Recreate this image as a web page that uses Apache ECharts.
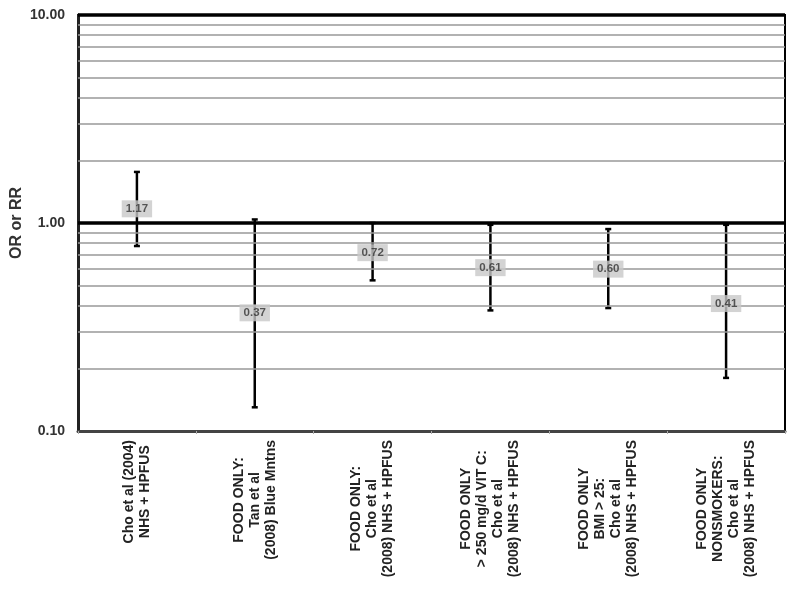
<!DOCTYPE html>
<html>
<head>
<meta charset="utf-8">
<script src="https://cdn.jsdelivr.net/npm/echarts@6/dist/echarts.min.js"></script>
<style>html,body{margin:0;padding:0;background:#fff}#c{width:798px;height:589px}</style>
</head>
<body>
<div id="c"></div>
<script>
const categories = [
  ["Cho et al (2004)", "NHS + HPFUS"],
  ["FOOD ONLY:", "Tan et al", "(2008) Blue Mntns"],
  ["FOOD ONLY:", "Cho et al", "(2008) NHS + HPFUS"],
  ["FOOD ONLY", "> 250 mg/d VIT C:", "Cho et al", "(2008) NHS + HPFUS"],
  ["FOOD ONLY", "BMI > 25:", "Cho et al", "(2008) NHS + HPFUS"],
  ["FOOD ONLY", "NONSMOKERS:", "Cho et al", "(2008) NHS + HPFUS"]
];
const estimates = [1.17, 0.37, 0.72, 0.61, 0.60, 0.41];
const lower = [0.775, 0.13, 0.53, 0.38, 0.39, 0.18];
const upper = [1.76, 1.04, 1.0, 0.98, 0.935, 0.98];
const gridValues = [0.2, 0.3, 0.4, 0.5, 0.6, 0.7, 0.8, 0.9, 2, 3, 4, 5, 6, 7, 8, 9];
const boldValues = [1, 10];

const catKeys = categories.map((c, i) => String(i));

const chart = echarts.init(document.getElementById('c'));
chart.setOption({
  animation: false,
  grid: { left: 78, right: 13, top: 15, bottom: 158, outerBoundsMode: 'none', containLabel: false, show: true, borderColor: '#000', borderWidth: 2, backgroundColor: 'transparent' },
  xAxis: {
    type: 'category',
    data: catKeys,
    boundaryGap: true,
    axisLine: { lineStyle: { color: '#444', width: 3 } },
    axisTick: { show: true, length: 3, lineStyle: { color: '#aaa', width: 1 } },
    splitLine: { show: false },
    axisLabel: {
      rotate: 90,
      margin: 9,
      interval: 0,
      formatter: (v) => categories[+v].map(s => '{c|' + s + '}').join('\n'),
      rich: { c: { align: 'center', fontSize: 14, fontWeight: 'bold', fontFamily: 'Liberation Sans, Arial', color: '#222', lineHeight: 16 } }
    }
  },
  yAxis: {
    type: 'log',
    logBase: 10,
    min: 0.1,
    max: 10,
    name: 'OR or RR',
    nameLocation: 'middle',
    nameGap: 53,
    nameMoveOverlap: false,
    nameTextStyle: { fontSize: 16, fontWeight: 'bold', fontFamily: 'Liberation Sans, Arial', color: '#333' },
    axisLine: { show: true, lineStyle: { color: '#222', width: 3 } },
    axisTick: { show: false },
    splitLine: { show: false },
    axisLabel: { formatter: v => Number(v).toFixed(2), fontSize: 14, fontWeight: 'bold', fontFamily: 'Liberation Sans, Arial', color: '#333', margin: 13 }
  },
  series: [
    {
      type: 'line', data: [], z: 1, silent: true,
      markLine: {
        silent: true, symbol: 'none', label: { show: false },
        lineStyle: { color: '#999', width: 1.5, type: 'solid' },
        data: gridValues.map(v => ({ yAxis: v }))
      }
    },
    {
      type: 'line', data: [], z: 2, silent: true,
      markLine: {
        silent: true, symbol: 'none', label: { show: false },
        lineStyle: { color: '#000', width: 3.5, type: 'solid' },
        data: boldValues.map(v => ({ yAxis: v }))
      }
    },
    {
      type: 'custom', z: 3,
      encode: { x: 0, y: [1, 2] },
      data: catKeys.map((k, i) => [i, lower[i], upper[i]]),
      renderItem: (params, api) => {
        const lo = api.coord([api.value(0), api.value(1)]);
        const hi = api.coord([api.value(0), api.value(2)]);
        const cw = 3;
        const st = { stroke: '#000', lineWidth: 2.5 };
        return {
          type: 'group',
          children: [
            { type: 'line', shape: { x1: lo[0], y1: lo[1], x2: hi[0], y2: hi[1] }, style: st },
            { type: 'line', shape: { x1: lo[0] - cw, y1: lo[1], x2: lo[0] + cw, y2: lo[1] }, style: st },
            { type: 'line', shape: { x1: hi[0] - cw, y1: hi[1], x2: hi[0] + cw, y2: hi[1] }, style: st }
          ]
        };
      }
    },
    {
      type: 'scatter', z: 4, zlevel: 1,
      symbolSize: 0,
      data: catKeys.map((k, i) => [i, estimates[i]]),
      label: {
        show: true, position: 'inside',
        formatter: p => p.value[1].toFixed(2),
        backgroundColor: '#c8c8c8',
        padding: [3, 4, 2, 4],
        fontSize: 11.5, fontWeight: 'bold', fontFamily: 'Liberation Sans, Arial', color: '#333'
      }
    }
  ]
});
</script>
</body>
</html>
